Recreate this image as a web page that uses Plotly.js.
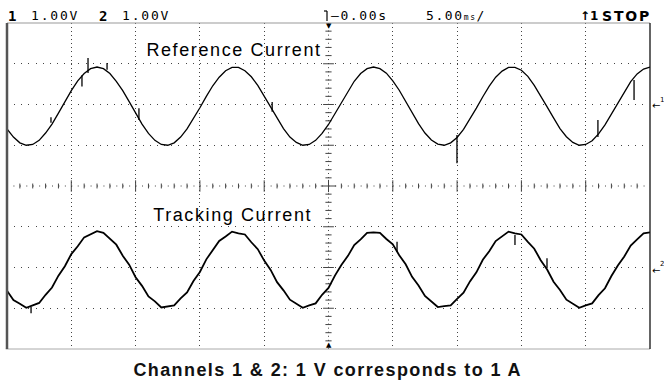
<!DOCTYPE html>
<html><head><meta charset="utf-8">
<script src="https://cdn.plot.ly/plotly-3.0.1.min.js"></script>
<style>html,body{margin:0;padding:0;background:#fff;} #chart{width:664px;height:387px;}</style>
</head><body><div id="chart"></div>
<script>
// ---- data ----
const timeMs = [-25,-24.5,-24,-23.5,-23,-22.5,-22,-21.5,-21,-20.5,-20,-19.5,-19,-18.5,-18,-17.5,-17,-16.5,-16,-15.5,-15,-14.5,-14,-13.5,-13,-12.5,-12,-11.5,-11,-10.5,-10,-9.5,-9,-8.5,-8,-7.5,-7,-6.5,-6,-5.5,-5,-4.5,-4,-3.5,-3,-2.5,-2,-1.5,-1,-0.5,0,0.5,1,1.5,2,2.5,3,3.5,4,4.5,5,5.5,6,6.5,7,7.5,8,8.5,9,9.5,10,10.5,11,11.5,12,12.5,13,13.5,14,14.5,15,15.5,16,16.5,17,17.5,18,18.5,19,19.5,20,20.5,21,21.5,22,22.5,23,23.5,24,24.5,25];
const ch1Volts = [
 -0.60,-0.80,-0.94,-1.00,-0.98,-0.88,-0.70,-0.48,-0.21,0.07,
 0.34,0.58,0.76,0.88,0.92,0.88,0.76,0.57,0.34,0.07,
 -0.21,-0.48,-0.71,-0.88,-0.98,-1.00,-0.94,-0.80,-0.60,-0.35,
 -0.08,0.20,0.46,0.67,0.83,0.91,0.91,0.83,0.68,0.47,
 0.21,-0.07,-0.34,-0.59,-0.80,-0.93,-1.00,-0.98,-0.88,-0.71,
 -0.49,-0.22,0.06,0.33,0.57,0.76,0.88,0.92,0.88,0.77,
 0.58,0.35,0.08,-0.20,-0.47,-0.70,-0.87,-0.97,-1.00,-0.94,
 -0.81,-0.61,-0.36,-0.09,0.19,0.45,0.67,0.82,0.91,0.91,
 0.84,0.69,0.47,0.22,-0.06,-0.33,-0.59,-0.79,-0.93,-1.00,
 -0.98,-0.89,-0.72,-0.50,-0.23,0.05,0.32,0.56,0.75,0.87,
 0.92];
const ch2Volts = [
 -0.57,-0.80,-0.89,-0.99,-0.93,-0.87,-0.67,-0.49,-0.20,0.03,
 0.33,0.52,0.74,0.81,0.89,0.85,0.70,0.56,0.29,0.07,
 -0.24,-0.45,-0.71,-0.83,-0.98,-0.95,-0.93,-0.76,-0.61,-0.33,
 -0.11,0.20,0.41,0.65,0.76,0.88,0.84,0.81,0.62,0.45,
 0.17,-0.06,-0.36,-0.56,-0.79,-0.89,-0.99,-0.93,-0.88,-0.67,
 -0.50,-0.20,0.06,0.28,0.55,0.69,0.85,0.86,0.85,0.70,
 0.57,0.30,0.08,-0.23,-0.44,-0.70,-0.83,-0.97,-0.95,-0.93,
 -0.77,-0.62,-0.34,-0.12,0.19,0.40,0.65,0.76,0.88,0.84,
 0.81,0.63,0.46,0.18,-0.05,-0.35,-0.55,-0.79,-0.88,-0.99,
 -0.93,-0.88,-0.68,-0.51,-0.21,0.05,0.27,0.54,0.69,0.84,
 0.86];
// glitches (time, low volts, high volts)
const ch1GlitchTime = [-21.58,-19.17,-18.70,-17.22,-14.74,-4.38,9.99,20.95,23.76];
const ch1GlitchLow  = [-0.45,0.44,0.77,0.85,-0.38,-0.18,-1.44,-0.80,0.11];
const ch1GlitchHigh = [-0.31,0.72,1.14,1.02,-0.09,0.06,-0.75,-0.38,0.60];
const ch2GlitchTime = [-23.13,5.33,14.50,16.99];
const ch2GlitchLow  = [-1.12,0.38,0.55,-0.01];
const ch2GlitchHigh = [-0.97,0.63,0.80,0.23];

const channelLabels = ['Reference Current','Tracking Current'];
const captionText = 'Channels 1 &amp; 2: 1 V corresponds to 1 A';
const voltsPerDiv = ['1.00V','1.00V'];
const timeRef = '\u20140.00s';
const timePerDiv = '5.00';
const runState = 'STOP';

// ---- display geometry ----
const ch1Offset = 2, ch2Offset = -2;          // divisions
const plotL = 7, plotR = 650, plotT = 23, plotB = 349;
const W = 664, H = 387;
const px = x => (x - plotL) / (plotR - plotL);
const py = y => (plotB - y) / (plotB - plotT);

function segs(ts, lo, hi, off){
  const x=[], y=[];
  ts.forEach((t,i)=>{ x.push(t,t,null); y.push(lo[i]+off, hi[i]+off, null); });
  return {x, y};
}
const g1 = segs(ch1GlitchTime, ch1GlitchLow, ch1GlitchHigh, ch1Offset);
const g2 = segs(ch2GlitchTime, ch2GlitchLow, ch2GlitchHigh, ch2Offset);

const traces = [
  {x: timeMs, y: ch1Volts.map(v=>v+ch1Offset), mode:'lines', line:{color:'#000', width:1.3}, hoverinfo:'skip'},
  {x: g1.x, y: g1.y, mode:'lines', line:{color:'#000', width:1.3}, hoverinfo:'skip'},
  {x: timeMs, y: ch2Volts.map(v=>v+ch2Offset), mode:'lines', line:{color:'#000', width:1.8}, hoverinfo:'skip'},
  {x: g2.x, y: g2.y, mode:'lines', line:{color:'#000', width:1.3}, hoverinfo:'skip'}
];

// ---- graticule ----
const shapes = [];
const gc = '#444';
shapes.push({type:'line', xref:'x', yref:'y', x0:-25, x1:25, y0:0, y1:0, line:{color:gc, width:1, dash:'1px,5.43px'}, layer:'below'});
for (let k=-24; k<=24; k++){
  if (k===0) continue;
  const h = (k%5===0) ? 0.14 : 0.06;
  shapes.push({type:'line', xref:'x', yref:'y', x0:k, x1:k, y0:-h, y1:h, line:{color:gc, width:1}, layer:'below'});
}
shapes.push({type:'line', xref:'x', yref:'y', x0:0, x1:0, y0:-4, y1:4, line:{color:gc, width:1, dash:'1px,3.07px'}, layer:'below'});
for (let j=-19; j<=19; j++){
  const yv = j/5;
  const w = (j===0) ? 0.6 : (j%5===0 ? 0.42 : 0.24);
  shapes.push({type:'line', xref:'x', yref:'y', x0:-w, x1:w, y0:yv, y1:yv, line:{color:gc, width:1}, layer:'below'});
}
shapes.push({type:'line', xref:'x', yref:'y', x0:0, x1:0, y0:-0.15, y1:0.15, line:{color:gc, width:1}, layer:'below'});
// frame
shapes.push({type:'line', xref:'paper', yref:'paper', x0:0, x1:1, y0:1, y1:1, line:{color:'#999', width:1}});
shapes.push({type:'line', xref:'paper', yref:'paper', x0:-0.002, x1:1, y0:0, y1:0, line:{color:'#aaa', width:1}});
shapes.push({type:'line', xref:'paper', yref:'paper', x0:0, x1:0, y0:0, y1:1, line:{color:'#555', width:2.5}});
shapes.push({type:'line', xref:'paper', yref:'paper', x0:1, x1:1, y0:0, y1:1, line:{color:'#111', width:1.3}});
// trigger symbol in header
shapes.push({type:'line', xref:'paper', yref:'paper', x0:px(327), x1:px(327), y0:py(21), y1:py(11), line:{color:'#000', width:1.2}});
shapes.push({type:'line', xref:'paper', yref:'paper', x0:px(324), x1:px(327), y0:py(11), y1:py(11), line:{color:'#000', width:1.2}});

const mono = 'DejaVu Sans Mono';
const ann = (x, y, text, font, xanchor, ls) => ({xref:'paper', yref:'paper', x:px(x), y:py(y), text, showarrow:false,
  xanchor: xanchor||'left', yanchor:'middle', align: (xanchor==='center'?'center':'left'), font, borderpad:0, _ls: ls||0});
const annotations = [
  ann(7, 15.5, '1', {family:mono, size:14, color:'#000', weight:'bold'}),
  ann(30, 15.5, voltsPerDiv[0], {family:mono, size:13, color:'#000'}, 'left', 1.8),
  ann(98, 15.5, '2', {family:mono, size:14, color:'#000', weight:'bold'}),
  ann(121, 15.5, voltsPerDiv[1], {family:mono, size:13, color:'#000'}, 'left', 1.8),
  ann(330, 15.5, timeRef, {family:mono, size:13, color:'#000'}, 'left', 1.6),
  ann(425, 15.5, timePerDiv + "<span style='font-size:8px'>ms</span>/", {family:mono, size:13, color:'#000'}, 'left', 1.6),
  ann(579, 15.5, '\u21911', {family:'DejaVu Sans', size:12, color:'#000', weight:'bold'}),
  ann(601, 15.5, runState, {family:'DejaVu Sans', size:14, color:'#000', weight:'bold'}, 'left', 1.8),
  ann(328.5, 26, '\u25BC', {family:'DejaVu Sans', size:7, color:'#000'}, 'center'),
  ann(328.5, 345, '\u25B2', {family:'DejaVu Sans', size:7, color:'#000'}, 'center'),
  ann(651, 106, '\u2190', {family:'DejaVu Sans', size:10, color:'#000'}),
  ann(659, 100, '1', {family:'DejaVu Sans', size:7, color:'#000'}),
  ann(651, 270, '\u2190', {family:'DejaVu Sans', size:10, color:'#000'}),
  ann(659, 264, '2', {family:'DejaVu Sans', size:7, color:'#000'}),
  ann(234, 50, channelLabels[0], {family:'Liberation Sans', size:18, color:'#000'}, 'center', 1.6),
  ann(233, 214.5, channelLabels[1], {family:'Liberation Sans', size:18, color:'#000'}, 'center', 1.6),
  ann(327, 370, captionText, {family:'Liberation Sans', size:18, color:'#111', weight:'bold'}, 'center', 1.4)
];
const spacing = annotations.map(a=>a._ls);
annotations.forEach(a=>delete a._ls);

const layout = {
  width: W, height: H,
  margin: {l: plotL, r: W-plotR, t: plotT, b: H-plotB, pad:0},
  paper_bgcolor:'#fff', plot_bgcolor:'#fff',
  showlegend:false,
  xaxis: {range:[-25,25], tickvals:[-20,-15,-10,-5,5,10,15,20], showticklabels:false, ticks:'',
          showgrid:true, gridcolor:gc, gridwidth:1, griddash:'1px,3.07px', zeroline:false, showline:false, fixedrange:true},
  yaxis: {range:[-4,4], tickvals:[-3,-2,-1,1,2,3], showticklabels:false, ticks:'',
          showgrid:true, gridcolor:gc, gridwidth:1, griddash:'1px,6.14px', zeroline:false, showline:false, fixedrange:true},
  shapes, annotations
};

Plotly.newPlot('chart', traces, layout, {staticPlot:true, displayModeBar:false}).then(()=>{
  spacing.forEach((ls,i)=>{
    if (!ls) return;
    const t = document.querySelector('#chart g.annotation[data-index="'+i+'"] text.annotation-text');
    if (t) t.style.letterSpacing = ls + 'px';
  });
});
</script>
</body></html>
